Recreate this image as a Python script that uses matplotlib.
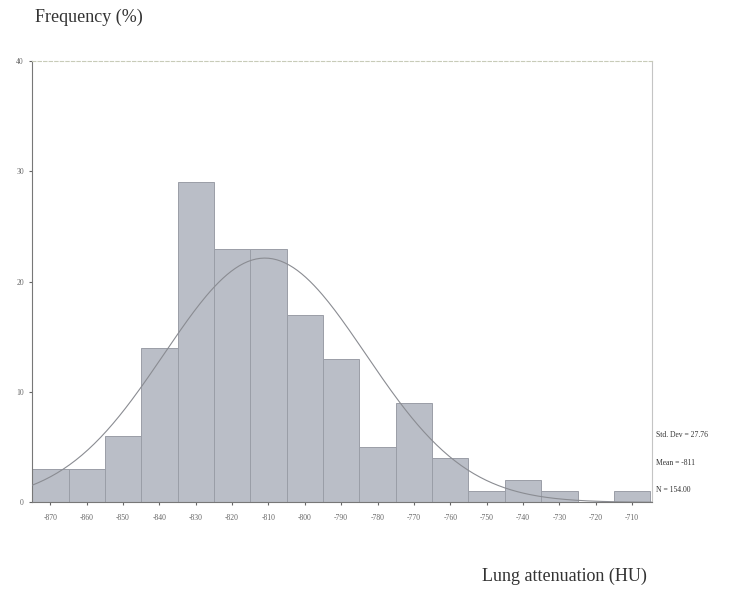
import numpy as np
import matplotlib
matplotlib.use('Agg')
import matplotlib.pyplot as plt

# Histogram of lung attenuation (bin centres in HU, counts)
bin_centers = [-870, -860, -850, -840, -830, -820, -810, -800, -790,
               -780, -770, -760, -750, -740, -730, -720, -710]
counts = [3, 3, 6, 14, 29, 23, 23, 17, 13, 5, 9, 4, 1, 2, 1, 0, 1]
bin_width = 10

# Summary statistics printed on the chart
std_dev = 27.76
mean = -811
n_total = 154.00

plt.rcParams['font.family'] = ['Liberation Serif', 'DejaVu Serif']

fig = plt.figure(figsize=(7.31, 5.91), dpi=100)
ax = fig.add_axes([0.044, 0.150, 0.848, 0.747])

ax.bar(bin_centers, counts, width=bin_width, color='#babec7',
       edgecolor='#9a9ea7', linewidth=0.7, zorder=2)

# Normal curve fitted with the stated mean / std dev, scaled to counts
xs = np.linspace(-875, -704.5, 300)
ys = n_total * bin_width / (std_dev * np.sqrt(2 * np.pi)) * np.exp(-0.5 * ((xs - mean) / std_dev) ** 2)
ax.plot(xs, ys, color='#8a8c92', linewidth=0.8, zorder=3)

ax.set_xlim(-875, -704.5)
ax.set_ylim(0, 40)
ax.set_xticks(bin_centers)
ax.set_xticklabels([str(c) for c in bin_centers])
ax.set_yticks([0, 10, 20, 30, 40])
ax.tick_params(axis='both', labelsize=5.5, colors='#666666', length=2.5, width=0.8)
ax.tick_params(axis='x', pad=6)

ax.spines['left'].set_color('#777777')
ax.spines['bottom'].set_color('#777777')
ax.spines['top'].set_color('#c8cbb8')
ax.spines['top'].set_linestyle((0, (3, 2)))
ax.spines['right'].set_color('#c4c4c4')
for s in ax.spines.values():
    s.set_linewidth(0.8)

fig.text(0.048, 0.970, 'Frequency (%)', fontsize=13, color='#333333', ha='left', va='center')
fig.text(0.659, 0.024, 'Lung attenuation (HU)', fontsize=13, color='#333333', ha='left', va='center')

fig.text(0.897, 0.264, 'Std. Dev = %.2f' % std_dev, fontsize=5.5, color='#333333', ha='left', va='center')
fig.text(0.897, 0.217, 'Mean = %d' % mean, fontsize=5.5, color='#333333', ha='left', va='center')
fig.text(0.897, 0.171, 'N = %.2f' % n_total, fontsize=5.5, color='#333333', ha='left', va='center')

fig.savefig('out.png', dpi=100, facecolor='white')
